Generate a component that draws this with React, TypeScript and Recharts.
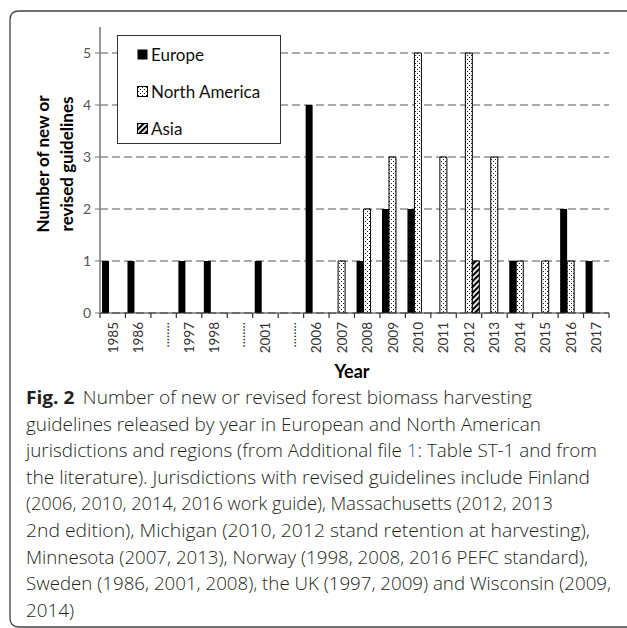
import React from 'react';
import { BarChart, Bar, XAxis, YAxis, CartesianGrid } from 'recharts';

// ---- data ----
const years = ["1985", "1986", "........", "1997", "1998", "........", "2001", "........", "2006", "2007", "2008", "2009", "2010", "2011", "2012", "2013", "2014", "2015", "2016", "2017"];
const europe = [1, 1, 0, 1, 1, 0, 1, 0, 4, 0, 1, 2, 2, 0, 0, 0, 1, 0, 2, 1];
const northAmerica = [0, 0, 0, 0, 0, 0, 0, 0, 0, 1, 2, 3, 5, 3, 5, 3, 1, 1, 1, 0];
const asia = [0, 0, 0, 0, 0, 0, 0, 0, 0, 0, 0, 0, 0, 0, 1, 0, 0, 0, 0, 0];
const yTicks = [0, 1, 2, 3, 4, 5];
const seriesNames = ["Europe", "North America", "Asia"];
const yLabelLines = ["Number of new or", "revised guidelines"];
const xLabel = "Year";

const data = years.map((y, i) => ({ year: y, europe: europe[i], na: northAmerica[i], asia: asia[i] }));

// ---- layout ----
const CHART_W = 627;
const CHART_H = 390;
const MARGIN = { top: 27, right: 18, left: 60, bottom: 0 };
const Y_AXIS_W = 40;
const X_AXIS_H = 77;
const PLOT_W = CHART_W - MARGIN.left - MARGIN.right - Y_AXIS_W;

const FONT = 'Lato, "Open Sans", sans-serif';
const CAP_FONT = '"Open Sans", "Noto Sans", sans-serif';

const fills = ["#000", "url(#naDots)", "url(#asiaHatch)"];

const XTick = (props: any) => {
  const { x, y, payload, index } = props;
  const step = PLOT_W / years.length;
  const left = x - step / 2;
  return (
    <g>
      <line x1={left} x2={left} y1={y} y2={y + 5} stroke="#333" strokeWidth={1.2} />
      {index === years.length - 1 && (
        <line x1={x + step / 2} x2={x + step / 2} y1={y} y2={y + 5} stroke="#333" strokeWidth={1.2} />
      )}
      <text
        transform={`translate(${x},${y}) rotate(-90)`}
        x={-9}
        dy="0.36em"
        textAnchor="end"
        fontSize={13.5}
        fontFamily={FONT}
        fill="#333"
      >
        {payload.value}
      </text>
    </g>
  );
};

const captionLines: { parts: { t: string; bold?: boolean; blue?: boolean; dx?: number }[]; w: number }[] = [
  { parts: [{ t: "Fig. 2", bold: true }, { t: "Number of new or revised forest biomass harvesting", dx: 8 }], w: 506 },
  { parts: [{ t: "guidelines released by year in European and North American" }], w: 515 },
  { parts: [{ t: "jurisdictions and regions (from Additional file " }, { t: "1", blue: true }, { t: ": Table ST-1 and from" }], w: 571 },
  { parts: [{ t: "the literature). Jurisdictions with revised guidelines include Finland" }], w: 564 },
  { parts: [{ t: "(2006, 2010, 2014, 2016 work guide), Massachusetts (2012, 2013" }], w: 527 },
  { parts: [{ t: "2nd edition), Michigan (2010, 2012 stand retention at harvesting)," }], w: 564 },
  { parts: [{ t: "Minnesota (2007, 2013), Norway (1998, 2008, 2016 PEFC standard)," }], w: 562 },
  { parts: [{ t: "Sweden (1986, 2001, 2008), the UK (1997, 2009) and Wisconsin (2009," }], w: 585 },
  { parts: [{ t: "2014)" }], w: 48 },
];

const Swatch = ({ fill, border }: { fill: string; border: boolean }) => (
  <svg width={11} height={11} style={{ display: 'block' }}>
    <rect x={0.5} y={0.5} width={10} height={10} fill={fill} stroke={border ? '#000' : 'none'} strokeWidth={1} />
  </svg>
);

export default function App() {
  return (
    <div style={{ position: 'fixed', left: 0, top: 0, width: 627, height: 628, background: '#fff', overflow: 'hidden' }}>
      <svg width={0} height={0} style={{ position: 'absolute' }}>
        <defs>
          <pattern id="naDots" width={4} height={4} patternUnits="userSpaceOnUse">
            <rect width={4} height={4} fill="#fff" />
            <rect x={1} y={1} width={1} height={1} fill="#222" />
            <rect x={3} y={3} width={1} height={1} fill="#222" />
          </pattern>
          <pattern id="asiaHatch" width={4} height={4} patternUnits="userSpaceOnUse" patternTransform="rotate(45)">
            <rect width={4} height={4} fill="#fff" />
            <rect width={2.2} height={4} fill="#000" />
          </pattern>
        </defs>
      </svg>

      <div style={{ position: 'absolute', left: 0, top: 0 }}>
        <BarChart width={CHART_W} height={CHART_H} data={data} margin={MARGIN} barCategoryGap="8%" barGap={0}>
          <CartesianGrid vertical={false} horizontalValues={yTicks} stroke="#8f8f8f" strokeWidth={1.5} strokeDasharray="8 4" />
          <XAxis
            dataKey="year"
            interval={0}
            height={X_AXIS_H}
            tickSize={0}
            tickMargin={0}
            tickLine={false}
            axisLine={{ stroke: '#333', strokeWidth: 1.2 }}
            tick={<XTick />}
          />
          <YAxis
            width={Y_AXIS_W}
            domain={[0, 5.5]}
            ticks={yTicks}
            tickSize={5}
            tickMargin={4}
            axisLine={{ stroke: '#777', strokeWidth: 1.5 }}
            tickLine={{ stroke: '#777' }}
            tick={{ fontSize: 14, fill: '#555', fontFamily: FONT }}
            allowDataOverflow
          />
          <Bar dataKey="europe" name={seriesNames[0]} fill={fills[0]} isAnimationActive={false} />
          <Bar dataKey="na" name={seriesNames[1]} fill={fills[1]} stroke="#000" strokeWidth={1} isAnimationActive={false} />
          <Bar dataKey="asia" name={seriesNames[2]} fill={fills[2]} stroke="#000" strokeWidth={1} isAnimationActive={false} />
        </BarChart>
      </div>

      {/* legend */}
      <div
        style={{
          position: 'absolute', left: 117, top: 35, width: 164, height: 109,
          background: '#fff', border: '1.2px solid #333', boxSizing: 'border-box',
          fontFamily: FONT, fontSize: 17, color: '#111',
        }}
      >
        {seriesNames.map((n, i) => (
          <div key={n} style={{ position: 'absolute', left: 19, top: 7 + i * 37, height: 22, display: 'flex', alignItems: 'center', gap: 3 }}>
            <Swatch fill={fills[i]} border={i > 0} />
            <span>{n}</span>
          </div>
        ))}
      </div>

      {/* axis titles, caption and frame */}
      <svg width={627} height={628} style={{ position: 'absolute', left: 0, top: 0, pointerEvents: 'none' }}>
        <path d="M 627 11 L 19 11 Q 10 11 10 20 L 10 618 Q 10 627 19 627 L 627 627" fill="none" stroke="#444" strokeWidth={1.3} />
        {yLabelLines.map((l, i) => (
          <text
            key={l}
            transform={`translate(${43 + i * 24},164) rotate(-90)`}
            textAnchor="middle"
            dy="0.36em"
            fontFamily={FONT}
            fontWeight={700}
            fontSize={17}
            fill="#000"
          >
            {l}
          </text>
        ))}
        <text x={352} y={378} textAnchor="middle" fontFamily={FONT} fontWeight={700} fontSize={18} fill="#000">
          {xLabel}
        </text>
        {captionLines.map((ln, i) => (
          <text
            key={i}
            x={26}
            y={404 + i * 26.6}
            fontFamily={CAP_FONT}
            fontSize={18}
            fill="#231f20"
            textLength={ln.w}
            lengthAdjust="spacingAndGlyphs"
          >
            {ln.parts.map((p, j) => (
              <tspan key={j} fontWeight={p.bold ? 700 : 300} fill={p.blue ? '#2a62c9' : undefined} dx={p.dx}>
                {p.t}
              </tspan>
            ))}
          </text>
        ))}
      </svg>
    </div>
  );
}
